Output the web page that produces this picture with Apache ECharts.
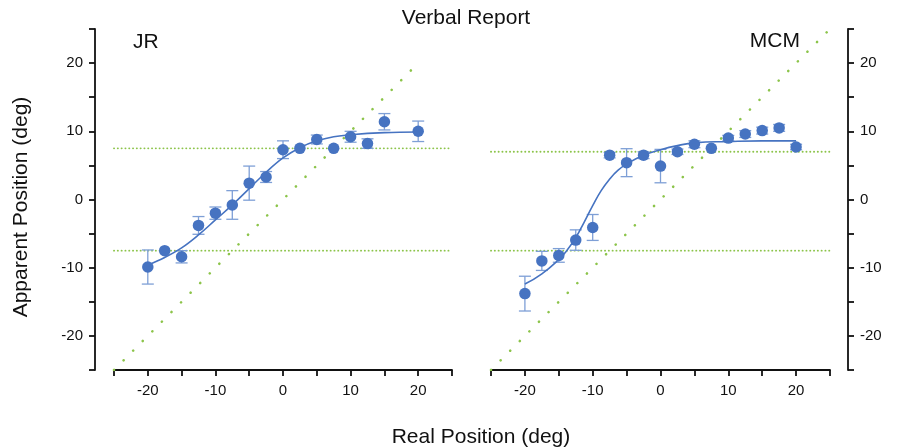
<!DOCTYPE html>
<html>
<head>
<meta charset="utf-8">
<script src="https://cdn.jsdelivr.net/npm/echarts@6/dist/echarts.min.js"></script>
<style>html,body{margin:0;padding:0;background:#fff;}#c{width:900px;height:447px;}</style>
</head>
<body>
<div id="c"></div>
<script>
// ---- Data ----
const jrX   = [-20, -17.5, -15, -12.5, -10, -7.5, -5, -2.5, 0, 2.5, 5, 7.5, 10, 12.5, 15, 20];
const jrY   = [-9.9, -7.5, -8.4, -3.8, -2.0, -0.8, 2.4, 3.3, 7.3, 7.5, 8.8, 7.5, 9.2, 8.2, 11.4, 10.0];
const jrErr = [2.5, 0, 0.9, 1.3, 0.9, 2.1, 2.5, 0.8, 1.3, 0, 0.65, 0, 0.8, 0.7, 1.2, 1.5];
const jrFitX = [-20, -17.5, -15, -12.5, -10, -7.5, -5, -2.5, 0, 2.5, 5, 7.5, 10, 15, 20];
const jrFitY = [-9.6, -8.5, -7.1, -5.2, -3.0, -0.8, 1.6, 4.0, 6.1, 7.6, 8.6, 9.2, 9.5, 9.8, 9.9];

const mcmX   = [-20, -17.5, -15, -12.5, -10, -7.5, -5, -2.5, 0, 2.5, 5, 7.5, 10, 12.5, 15, 17.5, 20];
const mcmY   = [-13.8, -9.0, -8.2, -5.95, -4.1, 6.5, 5.4, 6.5, 4.9, 7.0, 8.1, 7.5, 9.0, 9.6, 10.1, 10.5, 7.7];
const mcmErr = [2.55, 1.4, 1.0, 1.5, 1.9, 0.4, 2.05, 0.5, 2.45, 0.4, 0.5, 0, 0.4, 0.5, 0.5, 0.5, 0.4];
const mcmFitX = [-20, -17.5, -15, -13.75, -12.5, -11.25, -10, -8.75, -7.5, -6.25, -5, -2.5, 0, 2.5, 5, 10, 15, 20];
const mcmFitY = [-12.4, -10.9, -8.8, -7.4, -5.6, -3.3, -0.9, 1.3, 3.0, 4.3, 5.2, 6.5, 7.3, 7.9, 8.3, 8.5, 8.6, 8.6];

const jrIdentity  = [-25, 19];
const mcmIdentity = [-25, 25];
const jrBounds  = [7.5, -7.5];
const mcmBounds = [7, -7.5];
const hSpan = [-25, 25];

const axisMin = -25, axisMax = 25, tickStep = 5;
const labelTicks = [-20, -10, 0, 10, 20];

// ---- Styles ----
const FONT = 'Liberation Sans';
const BLUE = '#4673c1';
const ERR = '#7e9fd6';
const GREEN = '#8cc44a';

const pairs = (xs, ys) => xs.map((x, i) => [x, ys[i]]);
const errData = (xs, ys, es) => xs.map((x, i) => [x, ys[i], es[i]]);

function axisCommon(margin) {
  return {
    type: 'value', min: axisMin, max: axisMax, interval: tickStep,
    splitLine: { show: false },
    axisLine: { show: true, onZero: false, lineStyle: { color: '#111', width: 1.8 } },
    axisTick: { show: true, inside: false, length: 6, lineStyle: { color: '#111', width: 1.8 } },
    axisLabel: {
      show: true, color: '#111', fontFamily: FONT, fontSize: 15, margin: margin,
      formatter: v => labelTicks.indexOf(v) >= 0 ? String(v) : ''
    }
  };
}

function errSeries(name, xi, data) {
  return {
    type: 'custom', name: name, xAxisIndex: xi, yAxisIndex: xi, z: 2,
    data: data,
    renderItem: function (params, api) {
      const x = api.value(0), y = api.value(1), e = api.value(2);
      if (!e) return null;
      const top = api.coord([x, y + e]);
      const bot = api.coord([x, y - e]);
      const w = 6;
      const st = { stroke: ERR, lineWidth: 1.3, fill: null };
      return {
        type: 'group',
        children: [
          { type: 'line', shape: { x1: top[0], y1: top[1], x2: bot[0], y2: bot[1] }, style: st },
          { type: 'line', shape: { x1: top[0] - w, y1: top[1], x2: top[0] + w, y2: top[1] }, style: st },
          { type: 'line', shape: { x1: bot[0] - w, y1: bot[1], x2: bot[0] + w, y2: bot[1] }, style: st }
        ]
      };
    }
  };
}

function dotLine(xi, pts, dash, width) {
  return {
    type: 'line', xAxisIndex: xi, yAxisIndex: xi, data: pts, symbol: 'none', z: 1,
    silent: true, animation: false,
    lineStyle: { color: GREEN, width: width, type: dash, cap: 'round' }
  };
}

const series = [];
[[0, jrIdentity, jrBounds], [1, mcmIdentity, mcmBounds]].forEach(([xi, idn, bnd]) => {
  series.push(dotLine(xi, [[idn[0], idn[0]], [idn[1], idn[1]]], [0.1, 13.5], 2.6));
  bnd.forEach(b => series.push(dotLine(xi, [[hSpan[0], b], [hSpan[1], b]], [0.1, 3.7], 1.9)));
});
series.push({
  type: 'line', xAxisIndex: 0, yAxisIndex: 0, data: pairs(jrFitX, jrFitY), symbol: 'none',
  smooth: 0.4, z: 3, lineStyle: { color: BLUE, width: 1.6 }
});
series.push({
  type: 'line', xAxisIndex: 1, yAxisIndex: 1, data: pairs(mcmFitX, mcmFitY), symbol: 'none',
  smooth: 0.5, z: 3, lineStyle: { color: BLUE, width: 1.6 }
});
series.push(errSeries('jrErr', 0, errData(jrX, jrY, jrErr)));
series.push(errSeries('mcmErr', 1, errData(mcmX, mcmY, mcmErr)));
series.push({
  type: 'scatter', xAxisIndex: 0, yAxisIndex: 0, data: pairs(jrX, jrY), symbolSize: 11.5, z: 4,
  itemStyle: { color: BLUE, opacity: 1 }
});
series.push({
  type: 'scatter', xAxisIndex: 1, yAxisIndex: 1, data: pairs(mcmX, mcmY), symbolSize: 11.5, z: 4,
  itemStyle: { color: BLUE, opacity: 1 }
});

const chart = echarts.init(document.getElementById('c'), null, { renderer: 'canvas' });
chart.setOption({
  animation: false,
  backgroundColor: '#fff',
  grid: [
    { left: 114, top: 29, width: 338, height: 341 },
    { left: 491, top: 29, width: 339, height: 341 }
  ],
  xAxis: [
    Object.assign(axisCommon(13), { gridIndex: 0, position: 'bottom' }),
    Object.assign(axisCommon(13), { gridIndex: 1, position: 'bottom' })
  ],
  yAxis: [
    Object.assign(axisCommon(12), { gridIndex: 0, position: 'left', offset: 19 }),
    Object.assign(axisCommon(12), { gridIndex: 1, position: 'right', offset: 18 })
  ],
  series: series,
  graphic: [
    { type: 'text', x: 466, y: 18, style: { text: 'Verbal Report', font: '21px "' + FONT + '"', fill: '#111', textAlign: 'center', textVerticalAlign: 'middle' } },
    { type: 'text', x: 133, y: 42, style: { text: 'JR', font: '21px "' + FONT + '"', fill: '#111', textAlign: 'left', textVerticalAlign: 'middle' } },
    { type: 'text', x: 800, y: 41, style: { text: 'MCM', font: '21px "' + FONT + '"', fill: '#111', textAlign: 'right', textVerticalAlign: 'middle' } },
    { type: 'text', x: 481, y: 437, style: { text: 'Real Position (deg)', font: '21px "' + FONT + '"', fill: '#111', textAlign: 'center', textVerticalAlign: 'middle' } },
    { type: 'text', x: 21, y: 207, rotation: Math.PI / 2, style: { text: 'Apparent Position (deg)', font: '21px "' + FONT + '"', fill: '#111', textAlign: 'center', textVerticalAlign: 'middle' } }
  ]
});
</script>
</body>
</html>
